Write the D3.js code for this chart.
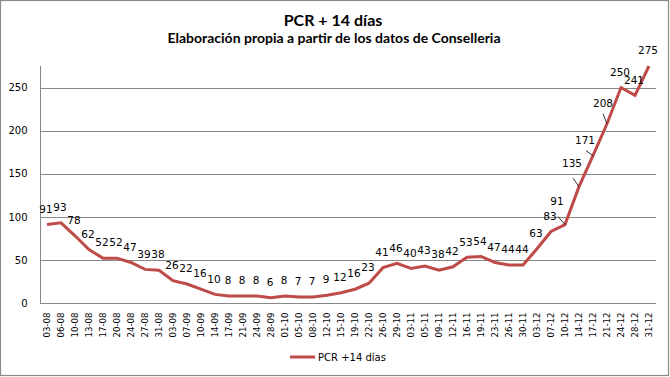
<!DOCTYPE html>
<html>
<head>
<meta charset="utf-8">
<script src="https://cdn.jsdelivr.net/npm/d3@7"></script>
<style>
  html, body { margin: 0; padding: 0; background: #fff; }
  svg { display: block; }
</style>
</head>
<body>
<svg id="chart" width="670" height="377"></svg>
<script>
const dates = ["03-08","06-08","10-08","13-08","17-08","20-08","24-08","27-08","31-08",
  "03-09","07-09","10-09","14-09","17-09","21-09","24-09","28-09",
  "01-10","05-10","08-10","12-10","15-10","19-10","22-10","26-10","29-10",
  "03-11","05-11","09-11","12-11","16-11","19-11","23-11","26-11","30-11",
  "03-12","07-12","10-12","14-12","17-12","21-12","24-12","28-12","31-12"];
const values = [91,93,78,62,52,52,47,39,38,
  26,22,16,10,8,8,8,6,
  8,7,7,9,12,16,23,41,46,
  40,43,38,42,53,54,47,44,44,
  63,83,91,135,171,208,250,241,275];
const yTicks = [0,50,100,150,200,250];
const seriesName = "PCR +14 días";
const title = "PCR + 14 días";
const subtitle = "Elaboración propia a partir de los datos de Conselleria";

// manually moved labels (layout only): index -> [dx, dy, leaderDx, leaderDy]
const movedLabels = {37: [-8, -23, -7, -8], 38: [-7, -23, -6, -8.5], 39: [-8, -15.5, -7, -5], 40: [-4, -20.5, -4, -10]};

const svg = d3.select("#chart");
const m = {left: 40, right: 656, top: 66, bottom: 303};
const lineColor = "#be4b48";
const gridColor = "#878787";

svg.append("rect").attr("x", 0.5).attr("y", 0.5).attr("width", 668).attr("height", 375)
  .attr("fill", "#fff").attr("stroke", "#8a8a8a").attr("stroke-width", 1.2);

const x = d3.scaleBand().domain(dates).range([m.left, m.right]);
const y = d3.scaleLinear().domain([0, 275]).range([m.bottom, m.top]);
const cx = d => x(d) + x.bandwidth() / 2;

// gridlines
svg.append("g").selectAll("line").data(yTicks.filter(t => t > 0)).join("line")
  .attr("x1", m.left).attr("x2", m.right)
  .attr("y1", d => Math.round(y(d)) + 0.5).attr("y2", d => Math.round(y(d)) + 0.5)
  .attr("stroke", gridColor).attr("stroke-width", 1);

// y axis
const yAxis = d3.axisLeft(y).tickValues(yTicks).tickSize(0).tickPadding(13);
const gy = svg.append("g").attr("transform", `translate(${m.left + 0.5},0)`).call(yAxis);
gy.select(".domain").attr("stroke", gridColor).attr("d", `M0,${m.top}V${m.bottom}`);
gy.selectAll("text").attr("font-family", "DejaVu Sans").attr("font-size", 10).attr("fill", "#000");

// x axis
const xAxis = d3.axisBottom(x).tickSize(0).tickPadding(0);
const gx = svg.append("g").attr("transform", `translate(0,${Math.round(m.bottom) + 0.5})`).call(xAxis);
gx.select(".domain").attr("stroke", gridColor).attr("d", `M${m.left},0H${m.right}`);
gx.selectAll("text")
  .attr("font-family", "DejaVu Sans").attr("font-size", 8.6).attr("fill", "#000")
  .attr("text-anchor", "end")
  .attr("transform", "rotate(-90)")
  .attr("x", -9).attr("y", 0).attr("dy", "0.35em");

// line
const line = d3.line().x((d, i) => cx(dates[i])).y(d => y(d));
svg.append("path").datum(values).attr("d", line)
  .attr("fill", "none").attr("stroke", lineColor).attr("stroke-width", 3)
  .attr("stroke-linejoin", "miter");

// leader lines
Object.entries(movedLabels).forEach(([i, o]) => {
  i = +i;
  const px = cx(dates[i]), py = y(values[i]);
  svg.append("line").attr("x1", px + o[2]).attr("y1", py + o[3]).attr("x2", px).attr("y2", py)
    .attr("stroke", "#000").attr("stroke-width", 0.8);
});

// data labels
svg.append("g").selectAll("text").data(values).join("text")
  .attr("x", (d, i) => cx(dates[i]) + (movedLabels[i] ? movedLabels[i][0] : -1))
  .attr("y", (d, i) => y(d) + (movedLabels[i] ? movedLabels[i][1] : -15.5) + 3.7)
  .attr("text-anchor", "middle")
  .attr("font-family", "DejaVu Sans").attr("font-size", 10.5).attr("fill", "#000")
  .text(d => d);

// titles
svg.append("text").attr("x", 333).attr("y", 26).attr("text-anchor", "middle")
  .attr("font-family", "Lato").attr("font-weight", "bold").attr("font-size", 16).attr("fill", "#000")
  .text(title);
svg.append("text").attr("x", 334).attr("y", 42.5).attr("text-anchor", "middle")
  .attr("font-family", "Lato").attr("font-weight", "bold").attr("font-size", 14).attr("fill", "#000")
  .text(subtitle);

// legend
svg.append("line").attr("x1", 290).attr("x2", 315).attr("y1", 357).attr("y2", 357)
  .attr("stroke", lineColor).attr("stroke-width", 3);
svg.append("text").attr("x", 318).attr("y", 360.5)
  .attr("font-family", "DejaVu Sans").attr("font-size", 10).attr("fill", "#000")
  .text(seriesName);
</script>
</body>
</html>
